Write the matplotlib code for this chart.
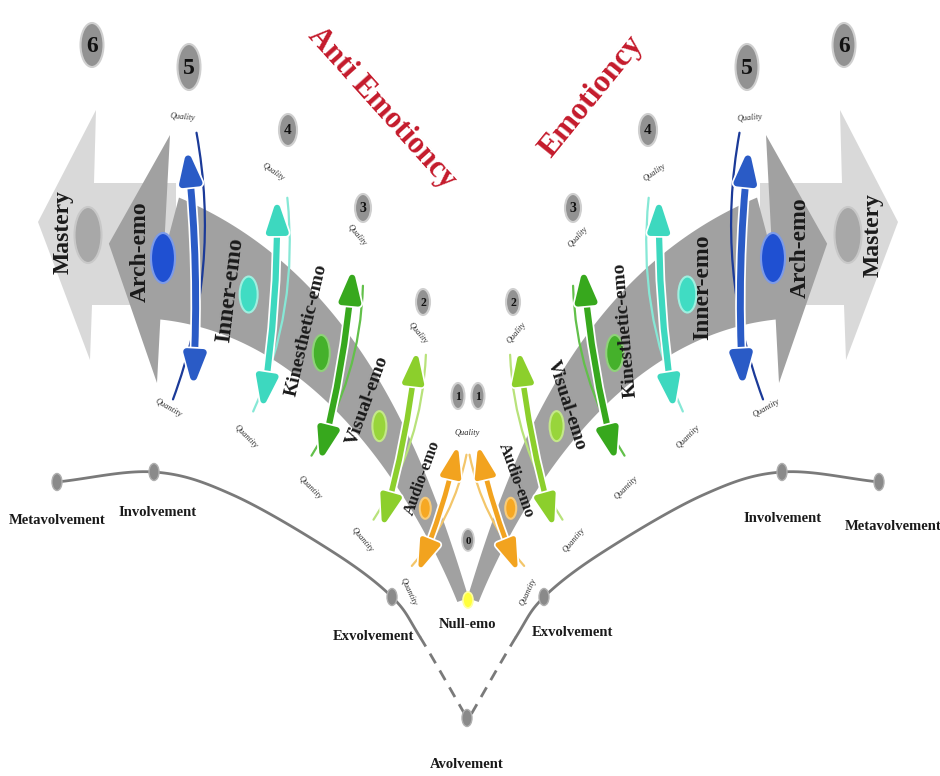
import numpy as np
import matplotlib
matplotlib.use("Agg")
import matplotlib.pyplot as plt
from matplotlib.patches import Ellipse, Polygon, FancyArrowPatch, ArrowStyle
import matplotlib.patheffects as pe

# ---------------- data ----------------
stage_numbers = [0, 1, 2, 3, 4, 5, 6]
stage_names = ["Null-emo", "Audio-emo", "Visual-emo", "Kinesthetic-emo",
               "Inner-emo", "Arch-emo", "Mastery"]
stage_colors = ["#ffff3c", "#f6a823", "#98d53b", "#45b12b", "#40dcc3", "#1f50d2", "#a8a8a8"]
arrow_colors = ["#f2a31f", "#8ccf2c", "#37a81d", "#3dd8bf", "#2a5bc6"]   # stages 1..5
arc_colors = ["#f3c66a", "#b8e27a", "#62c04a", "#86e8d6", "#1b3a98"]     # stages 1..5
side_titles = ["Anti Emotioncy", "Emotioncy"]
involvement_levels = ["Metavolvement", "Involvement", "Exvolvement", "Avolvement"]
pole_labels = ["Quality", "Quantity"]

# ---------------- layout ----------------
W, H = 940, 776
AXIS = 936.0
fig = plt.figure(figsize=(W / 100, H / 100), dpi=100)
ax = fig.add_axes([0, 0, 1, 1])
ax.set_xlim(0, W)
ax.set_ylim(H, 0)
ax.axis("off")
SERIF = ["Liberation Serif", "DejaVu Serif"]


def mirror(pts, side):
    pts = np.array(pts, dtype=float)
    if side == 1:
        pts[..., 0] = AXIS - pts[..., 0]
    return pts


# band centre line (left-hand geometry, mirrored for the right)
B0 = np.array([463.0, 600.0])
B1 = np.array([360.0, 310.0])
B2 = np.array([163.0, 258.0])


def bez(t):
    t = np.atleast_1d(np.asarray(t, dtype=float))[:, None]
    return (1 - t) ** 2 * B0 + 2 * t * (1 - t) * B1 + t ** 2 * B2


def bez_d(t):
    t = np.atleast_1d(np.asarray(t, dtype=float))[:, None]
    return 2 * (1 - t) * (B1 - B0) + 2 * t * (B2 - B1)


ts = np.linspace(0, 1, 150)
cl = bez(ts)
dd = bez_d(ts)
dd /= np.linalg.norm(dd, axis=1)[:, None]
nrm = np.column_stack([-dd[:, 1], dd[:, 0]])
half = (12 + 113 * ts ** 1.2) / 2
band_left = np.vstack([cl + nrm * half[:, None], (cl - nrm * half[:, None])[::-1]])
tang = dd[-1]
head_left = np.array([B2 + [7, -123], B2 + tang * 56, B2 + [-6, 125]])
mastery_left = np.array([[176, 183], [94, 183], [96, 110], [38, 222],
                         [90, 360], [92, 305], [176, 305]])

stage_t = [0.0, 0.17, 0.35, 0.55, 0.77, 1.0]
dot_size = [(10, 16), (11, 21), (14, 30), (17, 36), (18, 36), (24, 50), (27, 56)]
dot_edge = ["#ffffa0", "#f8cc7a", "#c4e889", "#8fd27a", "#9ff0e0", "#7d9be8", "#c8c8c8"]

for side in (0, 1):
    ax.add_patch(Polygon(mirror(mastery_left, side), closed=True, fc="#d9d9d9", ec="none", zorder=1))
    ax.add_patch(Polygon(mirror(band_left, side), closed=True, fc="#a1a1a1", ec="none", zorder=2))
    ax.add_patch(Polygon(mirror(head_left, side), closed=True, fc="#a1a1a1", ec="none", zorder=2))
    for k in range(1, 6):
        p = mirror(bez(stage_t[k])[0], side)
        ax.add_patch(Ellipse(p, *dot_size[k], fc=stage_colors[k], ec=dot_edge[k], lw=1.5, zorder=3))
    ax.add_patch(Ellipse(mirror([88, 235], side), *dot_size[6], fc=stage_colors[6],
                         ec=dot_edge[6], lw=1.5, zorder=3))
# null-emo dot (shared origin)
ax.add_patch(Ellipse((AXIS / 2, 600), *dot_size[0], fc=stage_colors[0], ec=dot_edge[0], lw=1.2, zorder=3))

# ---------------- band labels ----------------
label_left = [(422, 478, 70, 12), (368, 400, 70, 14), (306, 330, 77, 14),
              (230, 290, 83, 17), (140, 252, 90, 17), (63, 232, 90, 17)]
label_right = [(516, 480, -70, 12), (567, 405, -72, 14), (625, 330, 95, 14),
               (703, 287, 90, 17), (800, 248, 90, 17), (873, 235, 90, 17)]
for spec in (label_left, label_right):
    for k, (x, y, rot, fs) in enumerate(spec):
        ax.text(x, y, stage_names[k + 1], rotation=rot, rotation_mode="anchor",
                ha="center", va="center", fontsize=fs, fontweight="bold",
                family=SERIF, color="#1a1a1a", zorder=4)

# ---------------- quality / quantity double arrows ----------------
arrow_left = [((458, 445), (418, 572)), ((417, 350), (382, 528)), ((353, 268), (320, 462)),
              ((277, 198), (262, 410)), ((187, 148), (193, 388))]
arc_left = [((467, 452), (410, 568)), ((426, 352), (372, 522)), ((363, 283), (310, 458)),
            ((287, 195), (252, 414)), ((196, 130), (172, 402))]
arrow_lw = [3.5, 4.0, 4.5, 4.5, 5.0]
for side in (0, 1):
    sgn = 1 if side == 0 else -1
    for k in range(5):
        a0, a1 = mirror(arc_left[k], side)
        ax.add_patch(FancyArrowPatch(tuple(a0), tuple(a1), arrowstyle="-",
                                     connectionstyle=f"arc3,rad={-0.14 * sgn}",
                                     color=arc_colors[k], lw=1.6, zorder=5))
        p0, p1 = mirror(arrow_left[k], side)
        style = ArrowStyle("<|-|>", head_length=1.8, head_width=0.6)
        arr = FancyArrowPatch(tuple(p0), tuple(p1), arrowstyle=style, mutation_scale=10,
                              connectionstyle=f"arc3,rad={-0.04 * sgn}",
                              color=arrow_colors[k], lw=arrow_lw[k], shrinkA=0, shrinkB=0,
                              zorder=6)
        arr.set_path_effects([pe.withStroke(linewidth=arrow_lw[k] + 2.5, foreground="white")])
        ax.add_patch(arr)

quality_left = [(183, 117, -5), (273, 172, -35), (357, 235, -50), (418, 333, -50)]
quality_right = [(750, 118, 5), (655, 172, 35), (578, 237, 48), (517, 333, 50)]
quantity_left = [(408, 592, -65), (362, 540, -50), (310, 488, -45), (246, 437, -45), (168, 408, -30)]
quantity_right = [(528, 592, 65), (574, 540, 50), (626, 488, 45), (688, 437, 45), (766, 408, 30)]
for (x, y, r) in quality_left + quality_right + [(467, 433, 0)]:
    ax.text(x, y, pole_labels[0], rotation=r, rotation_mode="anchor", ha="center", va="center",
            fontsize=6, style="italic", family=SERIF, color="#2a2a2a", zorder=7)
for (x, y, r) in quantity_left + quantity_right:
    ax.text(x, y, pole_labels[1], rotation=r, rotation_mode="anchor", ha="center", va="center",
            fontsize=6, style="italic", family=SERIF, color="#2a2a2a", zorder=7)

# ---------------- numbered circles ----------------
num_left = {6: (92, 45), 5: (189, 67), 4: (288, 130), 3: (363, 208), 2: (423, 302), 1: (458, 396)}
circle_size = {6: (23, 44), 5: (23, 46), 4: (18, 32), 3: (16, 28), 2: (14, 26), 1: (13, 26), 0: (12, 22)}
digit_fs = {6: 17, 5: 17, 4: 11, 3: 10, 2: 8.5, 1: 8.5, 0: 8}
for side in (0, 1):
    for n in stage_numbers[1:]:
        p = mirror(num_left[n], side)
        ax.add_patch(Ellipse(p, *circle_size[n], fc="#929292", ec="#cfcfcf", lw=1.5, zorder=7))
        ax.text(p[0], p[1] + 1, str(n), ha="center", va="center", fontsize=digit_fs[n],
                fontweight="bold", family=SERIF, color="#111111", zorder=8)
ax.add_patch(Ellipse((468, 540), *circle_size[0], fc="#929292", ec="#cfcfcf", lw=1.2, zorder=7))
ax.text(468, 541, str(stage_numbers[0]), ha="center", va="center", fontsize=digit_fs[0],
        fontweight="bold", family=SERIF, color="#111111", zorder=8)

# ---------------- involvement curve ----------------
curve_left = np.array([(57, 482), (154, 472), (233, 495), (333, 552),
                       (392, 597), (420, 637), (467, 718)], dtype=float)


def catmull(P, n=24):
    Q = np.vstack([2 * P[0] - P[1], P, 2 * P[-1] - P[-2]])
    segs = []
    for i in range(1, len(Q) - 2):
        p0, p1, p2, p3 = Q[i - 1], Q[i], Q[i + 1], Q[i + 2]
        t = np.linspace(0, 1, n, endpoint=False)[:, None]
        segs.append(0.5 * (2 * p1 + (-p0 + p2) * t + (2 * p0 - 5 * p1 + 4 * p2 - p3) * t ** 2
                           + (-p0 + 3 * p1 - 3 * p2 + p3) * t ** 3))
    segs.append(Q[-2][None])
    return np.vstack(segs)


NSEG = 24
full = catmull(curve_left, NSEG)
solid = full[:5 * NSEG + 1]
dashed = full[5 * NSEG:]
for side in (0, 1):
    s = mirror(solid, side)
    dsh = mirror(dashed, side)
    ax.plot(s[:, 0], s[:, 1], color="#7a7a7a", lw=2, zorder=2, solid_capstyle="round")
    ax.plot(dsh[:, 0], dsh[:, 1], color="#7a7a7a", lw=2, ls=(0, (4, 3)), zorder=2)
    for idx in (0, 1, 4):
        p = mirror(curve_left[idx], side)
        ax.add_patch(Ellipse(p, 10, 17, fc="#8a8a8a", ec="#b0b0b0", lw=1, zorder=3))
ax.add_patch(Ellipse(tuple(curve_left[6]), 10, 17, fc="#8a8a8a", ec="#b0b0b0", lw=1, zorder=3))

lvl_pos = {"Metavolvement": [(57, 520), (893, 527)],
           "Involvement": [(158, 513), (783, 518)],
           "Exvolvement": [(373, 637), (572, 633)],
           "Avolvement": [(467, 765)]}
for name in involvement_levels:
    for (x, y) in lvl_pos[name]:
        ax.text(x, y, name, ha="center", va="center", fontsize=10.5, fontweight="bold",
                family=SERIF, color="#1a1a1a", zorder=4)
ax.text(467, 625, stage_names[0], ha="center", va="center", fontsize=10.5, fontweight="bold",
        family=SERIF, color="#1a1a1a", zorder=4)

# ---------------- titles ----------------
ax.text(382, 108, side_titles[0], rotation=-48, rotation_mode="anchor", ha="center", va="center",
        fontsize=22, fontweight="bold", family=SERIF, color="#c41a2b", zorder=9)
ax.text(592, 97, side_titles[1], rotation=51, rotation_mode="anchor", ha="center", va="center",
        fontsize=23, fontweight="bold", family=SERIF, color="#c41a2b", zorder=9)

fig.savefig("out.png", dpi=100, facecolor="white")
